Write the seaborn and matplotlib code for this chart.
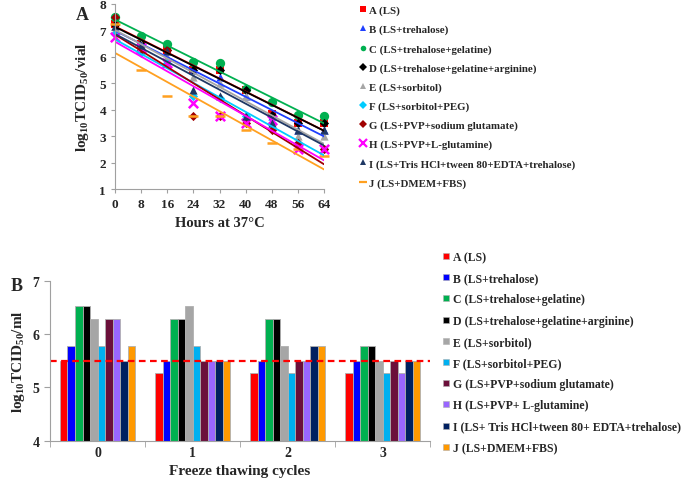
import numpy as np
import pandas as pd
import matplotlib
matplotlib.use("Agg")
import matplotlib.pyplot as plt
import seaborn as sns
from matplotlib.lines import Line2D
from matplotlib.ticker import FixedLocator

sns.set_style("white")
plt.rcParams['font.family'] = ['Liberation Serif', 'DejaVu Serif']
plt.rcParams['font.weight'] = 'bold'
plt.rcParams['mathtext.fontset'] = 'custom'
plt.rcParams['mathtext.rm'] = 'Liberation Serif:bold'
plt.rcParams['mathtext.default'] = 'rm'

# ---- panel A : titre at 37 C ----
hours = [0, 8, 16, 24, 32, 40, 48, 56, 64]
labels_a = ["A (LS)", "B (LS+trehalose)", "C (LS+trehalose+gelatine)",
            "D (LS+trehalose+gelatine+arginine)", "E (LS+sorbitol)",
            "F (LS+sorbitol+PEG)", "G (LS+PVP+sodium glutamate)",
            "H (LS+PVP+L-glutamine)", "I (LS+Tris HCl+tween 80+EDTA+trehalose)",
            "J (LS+DMEM+FBS)"]
titre_A = [7.25, 6.5, 6.25, 5.5, 5.5, 4.75, 3.85, 3.5, 3.5]
titre_B = [7.0, 6.4, 6.0, 5.5, 5.25, 4.5, 3.75, 3.25, 3.25]
titre_C = [7.5, 6.8, 6.5, 5.8, 5.75, 4.8, 4.3, 3.8, 3.75]
titre_D = [7.2, 6.5, 6.25, 5.5, 5.5, 4.75, 3.8, 3.5, 3.5]
titre_E = [7.0, 6.5, 6.0, 5.25, 5.0, 4.5, 3.5, 3.0, 3.0]
titre_F = [6.85, 6.15, 5.75, 4.5, 4.45, 3.75, 3.5, 2.75, 2.5]
titre_G = [7.5, 6.25, 6.25, 3.75, 3.75, 3.5, 3.25, 2.75, 2.5]
titre_H = [6.75, 6.35, 5.75, 4.25, 3.75, 3.5, 3.6, 2.5, 2.5]
titre_I = [7.15, 6.45, 6.2, 4.75, 4.5, 3.75, 3.5, 3.25, 3.25]
titre_J = [7.25, 5.5, 4.5, 3.75, 3.75, 3.25, 2.75, 2.5, 2.25]
series_a = [titre_A, titre_B, titre_C, titre_D, titre_E,
            titre_F, titre_G, titre_H, titre_I, titre_J]
colors_a = ["#FF0000", "#1F3FFF", "#00B050", "#000000", "#A6A6A6",
            "#00CCFF", "#A00000", "#FF00FF", "#1F3864", "#FFA020"]
markers_a = ["s", "^", "o", "D", "^", "D", "D", "x", "^", "_"]
sizes_a = [30, 35, 45, 22, 35, 22, 22, 45, 35, 60]

# ---- panel B : freeze thawing ----
cycles = ["0", "1", "2", "3"]
labels_b = ["A (LS)", "B (LS+trehalose)", "C (LS+trehalose+gelatine)",
            "D (LS+trehalose+gelatine+arginine)", "E (LS+sorbitol)",
            "F (LS+sorbitol+PEG)", "G (LS+PVP+sodium glutamate)",
            "H (LS+PVP+ L-glutamine)", "I (LS+ Tris HCl+tween 80+ EDTA+trehalose)",
            "J (LS+DMEM+FBS)"]
cycle0 = [5.5, 5.78, 6.53, 6.53, 6.28, 5.78, 6.28, 6.28, 5.5, 5.78]
cycle1 = [5.28, 5.5, 6.28, 6.28, 6.53, 5.78, 5.5, 5.5, 5.5, 5.5]
cycle2 = [5.28, 5.5, 6.28, 6.28, 5.78, 5.28, 5.5, 5.5, 5.78, 5.78]
cycle3 = [5.28, 5.5, 5.78, 5.78, 5.5, 5.28, 5.5, 5.28, 5.5, 5.5]
colors_b = ["#FF0000", "#0000FF", "#00B050", "#000000", "#A6A6A6",
            "#00B0F0", "#6B0F3A", "#9966FF", "#002060", "#FF9900"]
threshold = 5.5

fig = plt.figure(figsize=(6.85, 4.85), dpi=100)
ax1 = fig.add_axes([0.168, 0.608, 0.305, 0.382])
ax2 = fig.add_axes([0.073, 0.089, 0.555, 0.330])

for vals, col, mk, sz in zip(series_a, colors_a, markers_a, sizes_a):
    sns.regplot(x=hours, y=vals, ax=ax1, ci=None, marker=mk, color=col,
                scatter_kws={"s": sz, "alpha": 1, "clip_on": False,
                             "linewidths": 1.8 if mk in ["x", "_"] else 0},
                line_kws={"linewidth": 1.3})
ax1.set_xlim(0, 64)
ax1.set_ylim(1, 8)
ax1.set_xticks(hours)
ax1.set_yticks(range(1, 9))
ax1.set_xlabel("Hours at 37°C", fontsize=10.5, fontweight="bold")
ax1.set_ylabel(r"log$_{10}$TCID$_{50}$/vial", fontsize=11, fontweight="bold",
               labelpad=6)
for sp in ["top", "right"]:
    ax1.spines[sp].set_visible(False)
for sp in ["left", "bottom"]:
    ax1.spines[sp].set_color("#A0A0A0")
ax1.tick_params(axis="both", labelsize=9.5, length=3, color="#A0A0A0",
                direction="out", left=True, bottom=True)
for t in ax1.get_xticklabels() + ax1.get_yticklabels():
    t.set_fontweight("bold")

handles_a = [Line2D([], [], linestyle="none", marker=mk, color=col,
                    markersize=4 if mk not in ["x", "_"] else 6,
                    markeredgewidth=1.6 if mk in ["x", "_"] else 0)
             for col, mk in zip(colors_a, markers_a)]
fig.legend(handles_a, labels_a, loc="upper left", bbox_to_anchor=(0.515, 1.0),
           frameon=False, fontsize=7.8, labelspacing=0.86, handlelength=0.6,
           handletextpad=0.3, borderaxespad=0.2)

rows = []
for cyc, vals in zip(cycles, [cycle0, cycle1, cycle2, cycle3]):
    for lab, v in zip(labels_b, vals):
        rows.append({"cycle": cyc, "group": lab, "titre": v})
df_b = pd.DataFrame(rows)

sns.barplot(data=df_b, x="cycle", y="titre", hue="group", palette=colors_b,
            saturation=1, width=0.79, edgecolor="#B0B0B0", linewidth=0.6,
            legend=False, ax=ax2)
ax2.axhline(threshold, color="red", linestyle="--", linewidth=1.6, dashes=(3, 2))
ax2.set_xlim(-0.5, 3.5)
ax2.set_ylim(4, 7)
ax2.set_yticks([4, 5, 6, 7])
ax2.set_xlabel("Freeze thawing cycles", fontsize=11, fontweight="bold")
ax2.set_ylabel(r"log$_{10}$TCID$_{50}$/ml", fontsize=11, fontweight="bold")
ax2.xaxis.set_minor_locator(FixedLocator([-0.5, 0.5, 1.5, 2.5, 3.5]))
ax2.tick_params(axis="x", which="major", length=0, labelsize=10)
ax2.tick_params(axis="x", which="minor", length=4, color="#A0A0A0", bottom=True)
ax2.tick_params(axis="y", length=4, color="#A0A0A0", labelsize=10, left=True)
for sp in ["top", "right"]:
    ax2.spines[sp].set_visible(False)
for sp in ["left", "bottom"]:
    ax2.spines[sp].set_color("#A0A0A0")
for t in ax2.get_xticklabels() + ax2.get_yticklabels():
    t.set_fontweight("bold")

handles_b = [Line2D([], [], linestyle="none", marker="s", color=col,
                    markersize=5, markeredgecolor="#B0B0B0", markeredgewidth=0.4)
             for col in colors_b]
fig.legend(handles_b, labels_b, loc="upper left", bbox_to_anchor=(0.635, 0.495),
           frameon=False, fontsize=8.5, labelspacing=0.78, handlelength=0.6,
           handletextpad=0.3, borderaxespad=0.2)

fig.text(0.11, 0.958, "A", fontsize=13, fontweight="bold")
fig.text(0.015, 0.4, "B", fontsize=13, fontweight="bold")

fig.savefig("out.png", dpi=100)
